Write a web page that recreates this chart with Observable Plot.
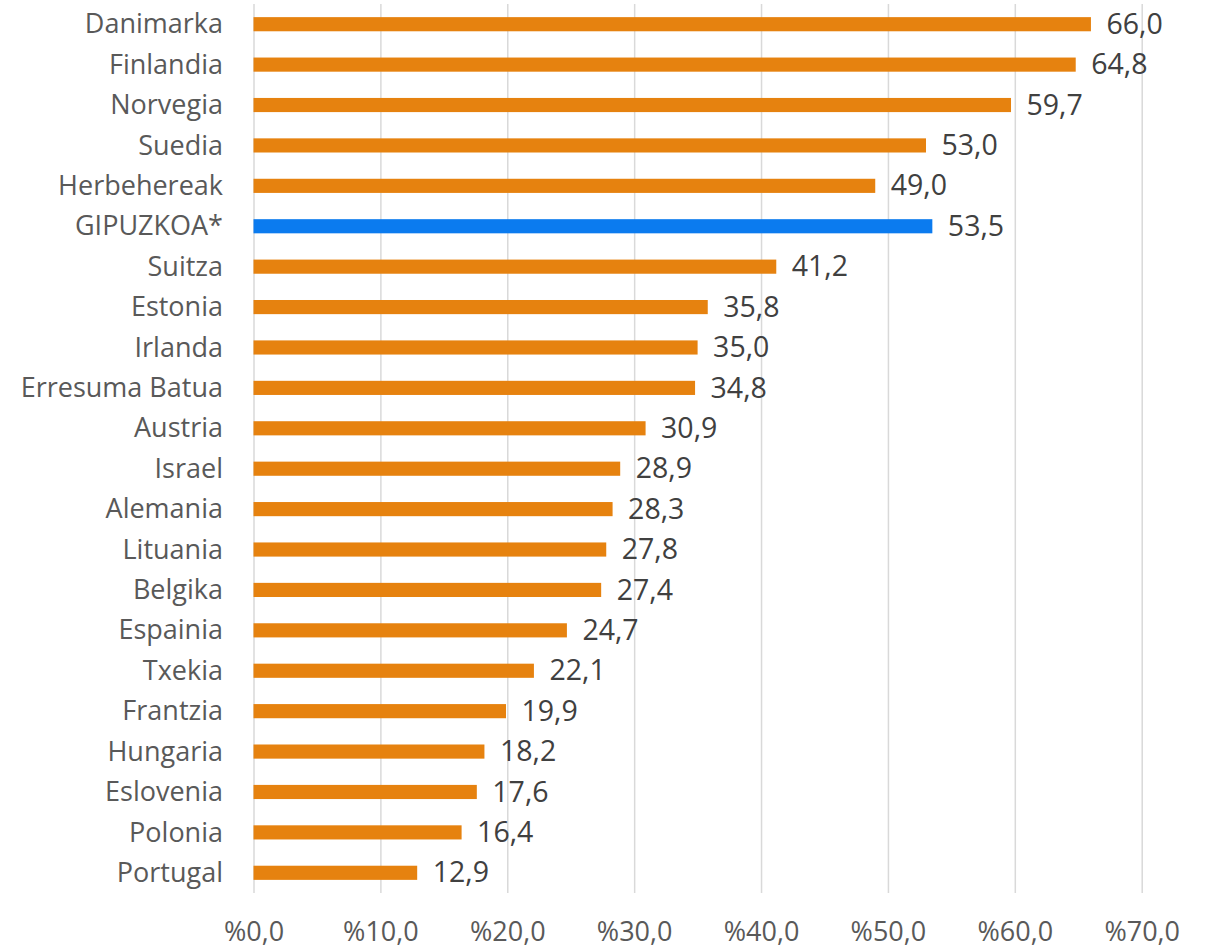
<!DOCTYPE html>
<html>
<head>
<meta charset="utf-8">
<script src="https://cdn.jsdelivr.net/npm/d3@7"></script>
<script src="https://cdn.jsdelivr.net/npm/@observablehq/plot@0.6"></script>
<style>
  html, body { margin: 0; padding: 0; background: #fff; }
  #chart svg { display: block; }
</style>
</head>
<body>
<div id="chart"></div>
<script>
const countries = ["Danimarka","Finlandia","Norvegia","Suedia","Herbehereak","GIPUZKOA*","Suitza","Estonia","Irlanda","Erresuma Batua","Austria","Israel","Alemania","Lituania","Belgika","Espainia","Txekia","Frantzia","Hungaria","Eslovenia","Polonia","Portugal"];
const values = [66.0,64.8,59.7,53.0,49.0,53.5,41.2,35.8,35.0,34.8,30.9,28.9,28.3,27.8,27.4,24.7,22.1,19.9,18.2,17.6,16.4,12.9];
const highlight = "GIPUZKOA*";
const xTicks = [0,10,20,30,40,50,60,70];

const data = countries.map((c, i) => ({country: c, value: values[i]}));
const fmt = v => v.toFixed(1).replace(".", ",");
const font = "'Open Sans', sans-serif";

const chart = Plot.plot({
  width: 1207,
  height: 950,
  marginTop: 4,
  marginBottom: 57,
  marginLeft: 253.5,
  marginRight: 65.3,
  style: {fontFamily: font, color: "#404040", background: "#fff"},
  x: {domain: [0, 70], ticks: xTicks},
  y: {domain: countries, paddingInner: 0.65, paddingOuter: 0.325, round: false},
  marks: [
    Plot.ruleX(xTicks, {stroke: "#d9d9d9", strokeWidth: 1.5}),
    Plot.barX(data, {y: "country", x: "value", fill: d => d.country === highlight ? "#0B7BEF" : "#E6820F"}),
    Plot.text(data, {y: "country", x: "value", text: d => fmt(d.value), textAnchor: "start", dx: 15, fontSize: 28.5, fill: "#404040"}),
    Plot.axisX({ticks: xTicks, tickSize: 0, tickPadding: 28, fontSize: 27, tickFormat: d => "%" + fmt(d), label: null, color: "#595959"}),
    Plot.axisY({tickSize: 0, tickPadding: 31, fontSize: 27, label: null, color: "#595959"})
  ]
});
document.getElementById("chart").appendChild(chart);
</script>
</body>
</html>
